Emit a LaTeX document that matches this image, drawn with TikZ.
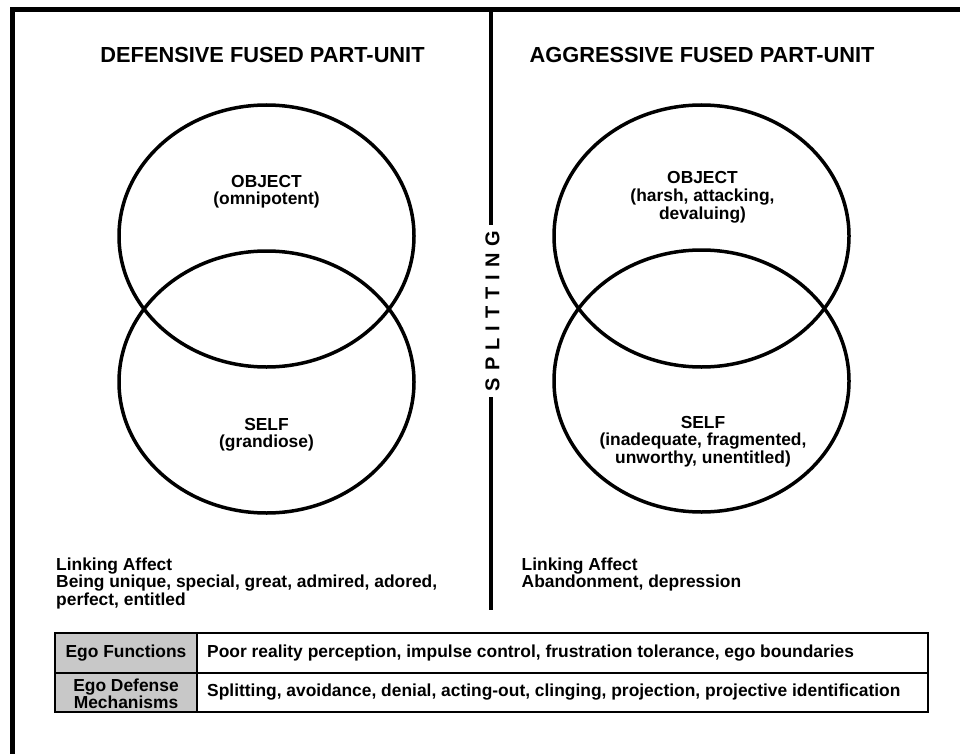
\documentclass[tikz,border=0pt]{standalone}
\usepackage{fontspec}
\setmainfont{Liberation Sans}
\usetikzlibrary{shapes.geometric}
\definecolor{cellgray}{RGB}{200,200,200}
\begin{document}
\begin{tikzpicture}[x=1pt,y=-1pt,
  lbl/.style={font=\fontsize{17.4}{17.4}\selectfont\bfseries, inner sep=0pt},
  ttl/.style={font=\fontsize{21.8}{24}\selectfont\bfseries, inner sep=0pt},
  part/.style={ellipse, draw, line width=3.5pt, minimum width=295pt, minimum height=262pt, inner sep=0pt},
  divider/.style={line width=3.5pt},
  frame/.style={line width=5pt},
  cell/.style={rectangle, draw, line width=2.5pt, inner sep=0pt, minimum height=40pt},
  headcell/.style={cell, fill=cellgray, minimum width=142pt},
  bodycell/.style={cell, minimum width=731pt}]
\useasboundingbox (0,0) rectangle (960,754);
\fill[white] (0,0) rectangle (960,754);
% outer frame (cut by the page on the right and at the bottom)
\draw[frame] (12.8,770) -- (12.8,10) -- (975,10);

% titles
\node[ttl, anchor=base] (tL) at (262.5,62.5) {DEFENSIVE FUSED PART-UNIT};
\node[ttl, anchor=base] (tR) at (702,62.5) {AGGRESSIVE FUSED PART-UNIT};

% splitting divider
\coordinate (dtop) at (491,10);
\coordinate (dbot) at (491,610);
\node[font=\fontsize{20}{20}\selectfont\bfseries, rotate=90, inner xsep=6pt, inner ysep=0pt] (split) at (492.5,311)
  {S\kern7pt P\kern7pt L\kern7pt I\kern7pt T\kern7pt T\kern7pt I\kern7pt N\kern7pt G};
\draw[divider] (dtop) -- (split.east -| dtop);
\draw[divider] (split.west -| dbot) -- (dbot);

% left unit
\node[part] (objL) at (266.5,236) {};
\node[part] (selfL) at (266.5,382) {};
\node[lbl, anchor=base] (objLt) at (266.5,187) {\begin{tabular}[t]{@{}c@{}}OBJECT\\(omnipotent)\end{tabular}};
\node[lbl, anchor=base] (selfLt) at (266.5,430) {\begin{tabular}[t]{@{}c@{}}SELF\\(grandiose)\end{tabular}};

% right unit
\node[part] (objR) at (701.5,236) {};
\node[part] (selfR) at (701.5,381) {};
\node[lbl, anchor=base] (objRt) at (702.5,183.5) {\begin{tabular}[t]{@{}c@{}}OBJECT\\(harsh, attacking,\\devaluing)\end{tabular}};
\node[lbl, anchor=base] (selfRt) at (703,428) {\begin{tabular}[t]{@{}c@{}}SELF\\(inadequate, fragmented,\\unworthy, unentitled)\end{tabular}};

% linking affects
\node[lbl, anchor=base west] (linkL) at (56,570) {\begin{tabular}[t]{@{}l@{}}Linking Affect\\Being unique, special, great, admired, adored,\\perfect, entitled\end{tabular}};
\node[lbl, anchor=base west] (linkR) at (521.5,570) {\begin{tabular}[t]{@{}l@{}}Linking Affect\\Abandonment, depression\end{tabular}};

% table
\node[headcell] (h1) at (126,653) {};
\node[bodycell] (b1) at (562.5,653) {};
\node[headcell, minimum height=39pt] (h2) at (126,692.5) {};
\node[bodycell, minimum height=39pt] (b2) at (562.5,692.5) {};
\node[lbl, anchor=base] (h1t) at (126,657.5) {Ego Functions};
\node[lbl, anchor=base west] (b1t) at (207,657.5) {Poor reality perception, impulse control, frustration tolerance, ego boundaries};
\node[lbl, anchor=base] (h2t) at (126,691) {\begin{tabular}[t]{@{}c@{}}Ego Defense\\Mechanisms\end{tabular}};
\node[lbl, anchor=base west] (b2t) at (207,696.7) {Splitting, avoidance, denial, acting-out, clinging, projection, projective identification};
\end{tikzpicture}
\end{document}
